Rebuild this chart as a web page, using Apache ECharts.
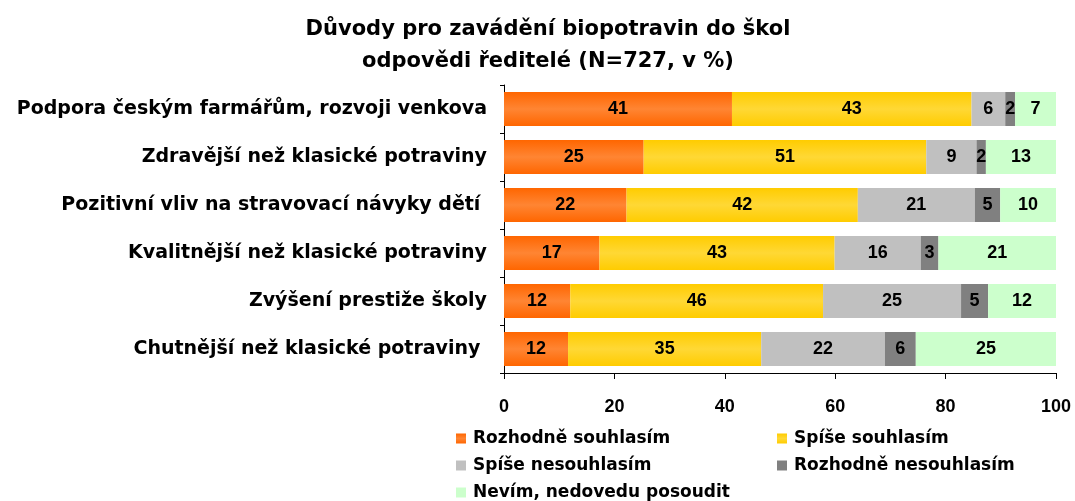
<!DOCTYPE html>
<html>
<head>
<meta charset="utf-8">
<script src="https://cdn.jsdelivr.net/npm/echarts@6/dist/echarts.min.js"></script>
<style>
  html, body { margin: 0; padding: 0; background: #fff; }
  #main { width: 1075px; height: 501px; }
</style>
</head>
<body>
<div id="main"></div>
<script>
// kategorie (shora dolu)
var categories = [
    'Podpora českým farmářům, rozvoji venkova',
    'Zdravější než klasické potraviny',
    'Pozitivní vliv na stravovací návyky dětí ',
    'Kvalitnější než klasické potraviny',
    'Zvýšení prestiže školy',
    'Chutnější než klasické potraviny '
];
var seriesNames = ['Rozhodně souhlasím', 'Spíše souhlasím', 'Spíše nesouhlasím', 'Rozhodně nesouhlasím', 'Nevím, nedovedu posoudit'];

// hodnoty v % (odhad z delky pruhu, popisky zaokrouhlene)
var rozhodneSouhlasim = [41.3, 25.3, 22.2, 17.3, 12.0, 11.6];
var spiseSouhlasim = [43.4, 51.2, 41.9, 42.6, 45.8, 35.0];
var spiseNesouhlasim = [6.1, 9.1, 21.2, 15.6, 25.0, 22.4];
var rozhodneNesouhlasim = [1.8, 1.7, 4.6, 3.2, 4.9, 5.6];
var nevim = [7.4, 12.7, 10.1, 21.3, 12.3, 25.4];

var xTicks = [0, 20, 40, 60, 80, 100];

function grad(edge, mid) {
    return new echarts.graphic.LinearGradient(0, 0, 0, 1, [
        { offset: 0, color: edge },
        { offset: 0.5, color: mid },
        { offset: 1, color: edge }
    ]);
}

var colors = [
    grad('#FF6600', '#FF8533'),
    grad('#FFCC00', '#FFD835'),
    '#C0C0C0',
    '#808080',
    '#CCFFCC'
];
var values = [rozhodneSouhlasim, spiseSouhlasim, spiseNesouhlasim, rozhodneNesouhlasim, nevim];

var textFont = '"DejaVu Sans", sans-serif';
var numFont = '"Liberation Sans", Arial, sans-serif';

var myChart = echarts.init(document.getElementById('main'));

var series = seriesNames.map(function (name, i) {
    return {
        name: name,
        type: 'bar',
        stack: 'total',
        barWidth: 34,
        itemStyle: { color: colors[i] },
        label: {
            show: true,
            position: 'inside',
            color: '#000',
            fontFamily: numFont,
            fontWeight: 'bold',
            fontSize: 18,
            formatter: function (p) { return Math.round(p.value); }
        },
        data: values[i]
    };
});

// legenda ve dvou sloupcich
var legendPos = [[456, 430], [777, 430], [456, 457], [777, 457], [456, 484]];
var legends = seriesNames.map(function (name, i) {
    return {
        data: [name],
        left: legendPos[i][0],
        top: legendPos[i][1],
        padding: 0,
        itemWidth: 10,
        itemHeight: 10,
        icon: 'rect',
        selectedMode: false,
        textStyle: {
            color: '#000',
            fontFamily: textFont,
            fontWeight: 'bold',
            fontSize: 17,
            padding: [0, 0, 0, 2]
        }
    };
});

myChart.setOption({
    animation: false,
    title: {
        text: 'Důvody pro zavádění biopotravin do škol\nodpovědi ředitelé (N=727, v %)',
        left: 548,
        top: 14,
        textAlign: 'center',
        padding: 0,
        textStyle: {
            color: '#000',
            fontFamily: textFont,
            fontWeight: 'bold',
            fontSize: 21,
            lineHeight: 32
        }
    },
    legend: legends,
    grid: {
        left: 504,
        right: 19,
        top: 85,
        bottom: 128
    },
    xAxis: {
        type: 'value',
        min: xTicks[0],
        max: xTicks[xTicks.length - 1],
        interval: 20,
        splitLine: { show: false },
        axisLine: { show: true, lineStyle: { color: '#000', width: 1 } },
        axisTick: { show: true, length: 6, lineStyle: { color: '#000' } },
        axisLabel: {
            color: '#000',
            fontFamily: numFont,
            fontWeight: 'bold',
            fontSize: 18,
            margin: 25
        }
    },
    yAxis: {
        type: 'category',
        inverse: true,
        data: categories,
        axisLine: { show: true, lineStyle: { color: '#000', width: 1 } },
        axisTick: { show: true, length: 4, lineStyle: { color: '#000' } },
        axisLabel: {
            color: '#000',
            fontFamily: textFont,
            fontWeight: 'bold',
            fontSize: 19,
            margin: 17
        }
    },
    series: series
});
</script>
</body>
</html>
